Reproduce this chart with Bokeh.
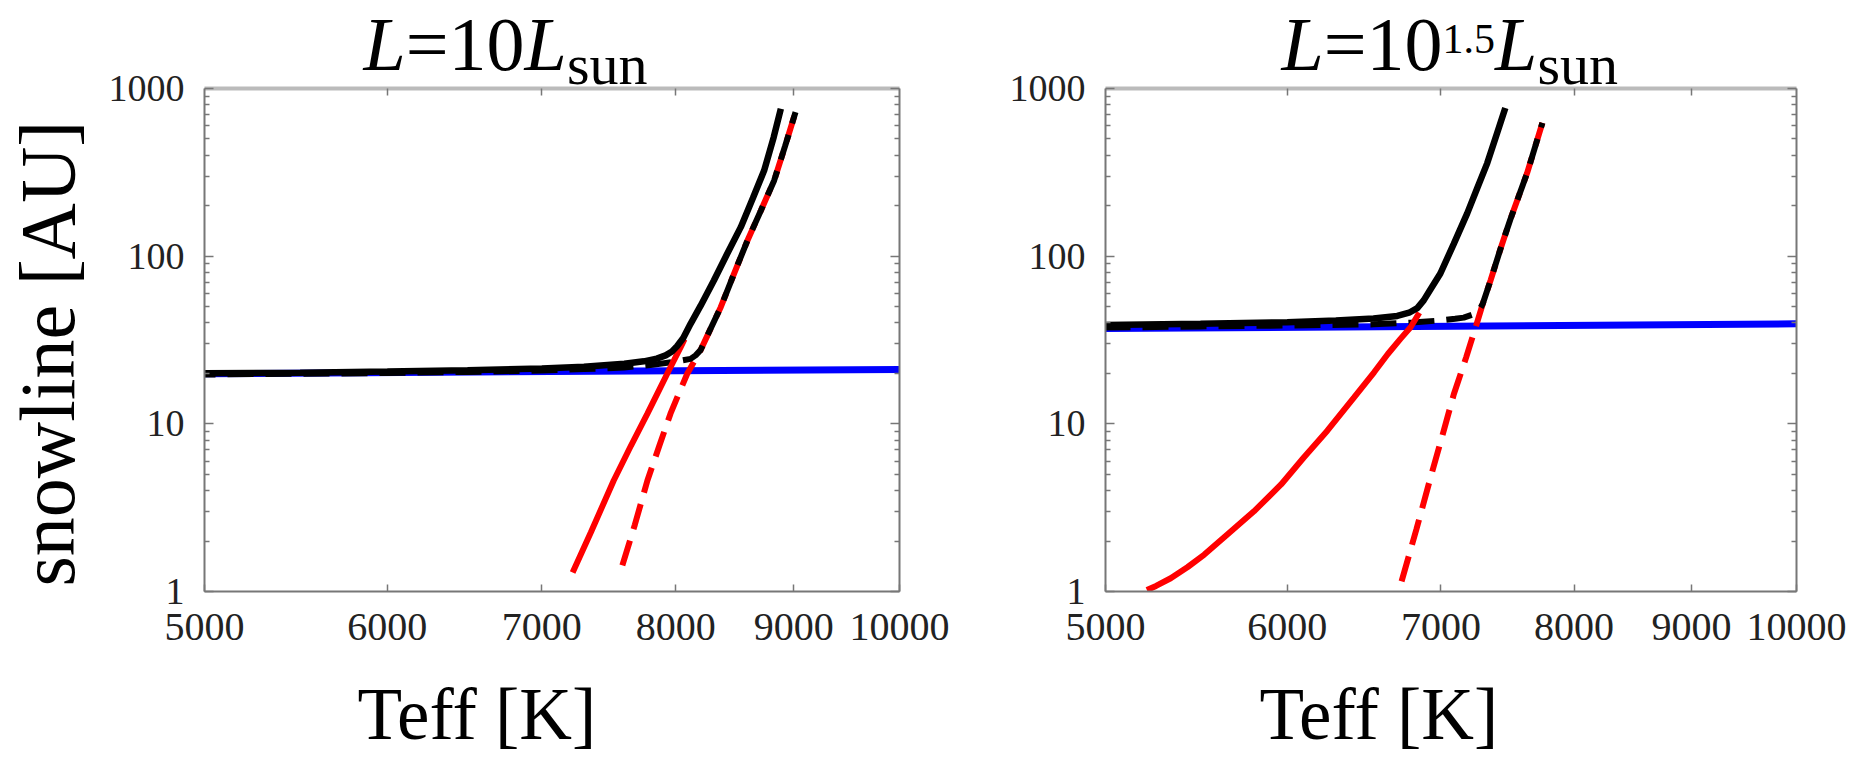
import math
from bokeh.plotting import figure
from bokeh.layouts import row
from bokeh.models import (FixedTicker, LogAxis, NumeralTickFormatter,
                          CustomJSTickFormatter, Label, GridBox)
from bokeh.embed import file_html
from bokeh.resources import INLINE

# ---------------- data ----------------
x_ticks = [5000, 6000, 7000, 8000, 9000, 10000]
y_ticks = [1, 10, 100, 1000]
y_minor = [2, 3, 4, 5, 6, 7, 8, 9, 20, 30, 40, 50, 60, 70, 80, 90,
           200, 300, 400, 500, 600, 700, 800, 900]

# Left panel: L = 10 Lsun
l_blue_T = [5000, 10000]
l_blue_v = [19.9, 21.1]
l_black_T = [5000, 5500, 6000, 6500, 7000, 7300, 7600, 7750, 7850, 7920,
             7970, 8010, 8060, 8119, 8200, 8310, 8420, 8536, 8640, 8737,
             8820, 8884]
l_black_v = [20.0, 20.2, 20.5, 20.9, 21.4, 21.9, 22.8, 23.6, 24.5, 25.6,
             27.0, 29.0, 32.5, 39.5, 50.5, 71.6, 103, 149, 222, 324,
             510, 757]
l_blackd_T = [5000, 5500, 6000, 6500, 7000, 7300, 7600, 7800, 8000, 8119,
              8160, 8200, 8367, 8480, 8593, 8710, 8825, 8920, 9015]
l_blackd_v = [19.7, 19.9, 20.1, 20.4, 20.8, 21.2, 21.7, 22.4, 23.5, 24.4,
              25.6, 27.5, 49.6, 79, 124, 188, 283, 450, 722]
l_red_T = [7218, 7350, 7520, 7650, 7777, 7870, 7945, 8038, 8070]
l_red_v = [1.30, 2.25, 4.59, 7.4, 11.5, 16.0, 20.8, 28.6, 32.0]
l_redd_T = [7585, 7680, 7777, 7870, 7958, 8030, 8092, 8200, 8367, 8480,
            8593, 8710, 8825, 8920, 9015]
l_redd_v = [1.43, 2.5, 4.59, 7.4, 11.5, 15.5, 19.9, 27.5, 49.6, 79,
            124, 188, 283, 450, 722]

# Right panel: L = 10^1.5 Lsun
r_blue_T = [5000, 10000]
r_blue_v = [37.0, 39.5]
r_black_T = [5000, 5500, 6000, 6300, 6542, 6700, 6780, 6836, 6880, 6920,
             6996, 7090, 7187, 7260, 7333, 7400, 7467]
r_black_v = [38.9, 39.5, 40.4, 41.3, 42.5, 44.0, 46.0, 49.0, 54.5, 62,
             78.8, 118, 180, 255, 359, 525, 766]
r_blackd_T = [5000, 5500, 6000, 6542, 6800, 7000, 7100, 7162, 7230, 7274,
              7300, 7358, 7430, 7504, 7570, 7632, 7690, 7750]
r_blackd_v = [37.5, 38.1, 38.6, 39.2, 40.2, 41.4, 42.3, 43.0, 45.0, 47.5,
              52, 72, 110, 165, 230, 313, 440, 623]
r_red_T = [5212, 5260, 5338, 5430, 5521, 5650, 5803, 5963, 6099, 6246,
           6416, 6546, 6637, 6720, 6790, 6850]
r_red_v = [1.02, 1.08, 1.20, 1.40, 1.66, 2.19, 3.01, 4.35, 6.28, 9.1,
           14.4, 20.3, 26.1, 32.0, 37.7, 46.0]
r_redd_T = [6729, 6830, 6925, 7010, 7091, 7180, 7248, 7300, 7358, 7430,
            7504, 7570, 7632, 7690, 7750]
r_redd_v = [1.15, 2.35, 4.7, 8.5, 15.0, 25.0, 37.7, 52, 72, 110,
            165, 230, 313, 440, 623]

FONT = "Liberation Serif"
GRAY = "#777777"
DASH, GAP = 26, 12
TOP, BOTTOM, H = 88, 166, 757
MID = 0.3375   # (ascent - descent) / 2 of the serif font, in em


def blank():
    return CustomJSTickFormatter(code="return ''")


def path_len(T, v, n, fw, fh):
    """screen length of the first n segments of a log-log polyline"""
    L = 0.0
    for i in range(n):
        dx = fw * math.log10(T[i + 1] / T[i]) / math.log10(2)
        dy = fh * math.log10(v[i + 1] / v[i]) / 3
        L += math.hypot(dx, dy)
    return L


def make_panel(width, bl, br, blue, black, blackd, red, redd):
    p = figure(width=width, height=H, x_axis_type="log", y_axis_type="log",
               x_range=(5000, 10000), y_range=(1, 1000),
               output_backend="svg", toolbar_location=None,
               min_border_left=bl, min_border_right=br,
               min_border_top=TOP, min_border_bottom=BOTTOM)
    p.xgrid.visible = False
    p.ygrid.visible = False
    p.outline_line_color = None
    p.background_fill_color = "white"
    p.border_fill_color = "white"

    xa = p.xaxis[0]
    xa.ticker = FixedTicker(ticks=x_ticks)
    xa.formatter = NumeralTickFormatter(format="0")
    xa.major_label_text_font = FONT
    xa.major_label_text_font_size = "40px"
    xa.major_label_text_color = "#222222"
    xa.major_label_standoff = 22
    xa.axis_line_color = GRAY
    xa.axis_line_width = 2
    xa.major_tick_in = 7
    xa.major_tick_out = 0
    xa.major_tick_line_color = GRAY
    xa.major_tick_line_width = 1.5
    xa.minor_tick_line_color = None

    ya = p.yaxis[0]
    ya.ticker = FixedTicker(ticks=y_ticks, minor_ticks=y_minor)
    ya.formatter = NumeralTickFormatter(format="0")
    ya.major_label_text_font = FONT
    ya.major_label_text_font_size = "38px"
    ya.major_label_text_color = "#222222"
    ya.major_label_standoff = 20
    ya.axis_line_color = GRAY
    ya.axis_line_width = 2
    ya.major_tick_in = 9
    ya.major_tick_out = 0
    ya.minor_tick_in = 5
    ya.minor_tick_out = 0
    ya.major_tick_line_color = GRAY
    ya.minor_tick_line_color = GRAY
    ya.major_tick_line_width = 1.5
    ya.minor_tick_line_width = 1.5

    top = LogAxis(ticker=FixedTicker(ticks=x_ticks[1:-1]), formatter=blank(),
                  axis_line_color="#bbbbbb", axis_line_width=4,
                  major_tick_in=7, major_tick_out=0,
                  major_tick_line_color=GRAY, major_tick_line_width=1.5,
                  minor_tick_line_color=None, major_label_standoff=0)
    p.add_layout(top, "above")
    right = LogAxis(ticker=FixedTicker(ticks=y_ticks, minor_ticks=y_minor),
                    formatter=blank(), axis_line_color=GRAY, axis_line_width=2,
                    major_tick_in=9, major_tick_out=0, minor_tick_in=5,
                    minor_tick_out=0, major_tick_line_color=GRAY,
                    minor_tick_line_color=GRAY, major_tick_line_width=1.5,
                    minor_tick_line_width=1.5, major_label_standoff=0)
    p.add_layout(right, "right")

    # phase of the black dashes so that they fill the gaps of the red
    # dashes where both curves coincide
    fw, fh = width - bl - br, H - TOP - BOTTOM
    shared_b = len(blackd[0]) - 1
    while shared_b > 0 and blackd[0][shared_b - 1] in redd[0]:
        shared_b -= 1
    shared_r = redd[0].index(blackd[0][shared_b])
    Lr = path_len(redd[0], redd[1], shared_r, fw, fh)
    Lb = path_len(blackd[0], blackd[1], shared_b, fw, fh)
    period = DASH + GAP
    offset = (Lr - Lb - (DASH + GAP / 2.0 - DASH / 2.0)) % period

    p.line(blue[0], blue[1], line_color="#0000ff", line_width=7)
    p.line(redd[0], redd[1], line_color="#ff0000", line_width=6,
           line_dash=f"{DASH} {GAP}")
    p.line(blackd[0], blackd[1], line_color="#000000", line_width=6,
           line_dash=f"{DASH} {GAP}", line_dash_offset=int(round(offset)))
    p.line(red[0], red[1], line_color="#ff0000", line_width=6)
    p.line(black[0], black[1], line_color="#000000", line_width=6.5)
    return p


p1 = make_panel(960, 204, 61, (l_blue_T, l_blue_v), (l_black_T, l_black_v),
                (l_blackd_T, l_blackd_v), (l_red_T, l_red_v),
                (l_redd_T, l_redd_v))
p2 = make_panel(908, 145, 72, (r_blue_T, r_blue_v), (r_black_T, r_black_v),
                (r_blackd_T, r_blackd_v), (r_red_T, r_red_v),
                (r_redd_T, r_redd_v))

# transparent text layer covering both panels (frame == whole canvas)
ov = figure(width=1868, height=H, output_backend="svg", toolbar_location=None,
            x_axis_location=None, y_axis_location=None, min_border=0,
            x_range=(0, 1), y_range=(0, 1), background_fill_color=None,
            border_fill_color=None, outline_line_color=None)
ov.xgrid.visible = False
ov.ygrid.visible = False
if "frame_align" in ov.properties():
    ov.frame_align = False


def lab(x, y_top, text, px, style="normal", angle=0.0):
    # x from the left edge, y_top = baseline measured from the top edge;
    # the label is anchored on the middle of its text box
    if angle == 0.0:
        xx, yy = x, H - (y_top - MID * px)
    else:  # rotated 90 deg: x is the baseline, y_top the start of the text
        xx, yy = x - MID * px, H - y_top
    ov.add_layout(Label(x=xx, y=yy, x_units="screen", y_units="screen",
                        text=text, text_font=FONT, text_font_size=f"{px}px",
                        text_font_style=style, text_color="black",
                        text_align="left", text_baseline="middle",
                        angle=angle))


M, S, SUP = 76, 58, 42
BASE, SUB, SUPB = 69, 84, 53
x0 = 363
lab(x0, BASE, "L", M, "italic")
lab(x0 + 0.556 * M, BASE, "=10", M)
lab(x0 + 2.12 * M, BASE, "L", M, "italic")
lab(x0 + 2.676 * M, SUB, "sun", S)

x0 = 1281
lab(x0, BASE, "L", M, "italic")
lab(x0 + 0.556 * M, BASE, "=10", M)
lab(x0 + 2.12 * M, SUPB, "1.5", SUP)
lab(x0 + 2.12 * M + 1.25 * SUP, BASE, "L", M, "italic")
lab(x0 + 2.676 * M + 1.25 * SUP, SUB, "sun", S)

lab(357, 739, "Teff [K]", 73)
lab(1259, 739, "Teff [K]", 73)
lab(73, 586, "snowline [AU]", 78, angle=math.pi / 2)

panels = row(p1, p2)
grid = GridBox(children=[(panels, 0, 0), (ov, 0, 0)])
open("out.html", "w").write(file_html(grid, INLINE))
